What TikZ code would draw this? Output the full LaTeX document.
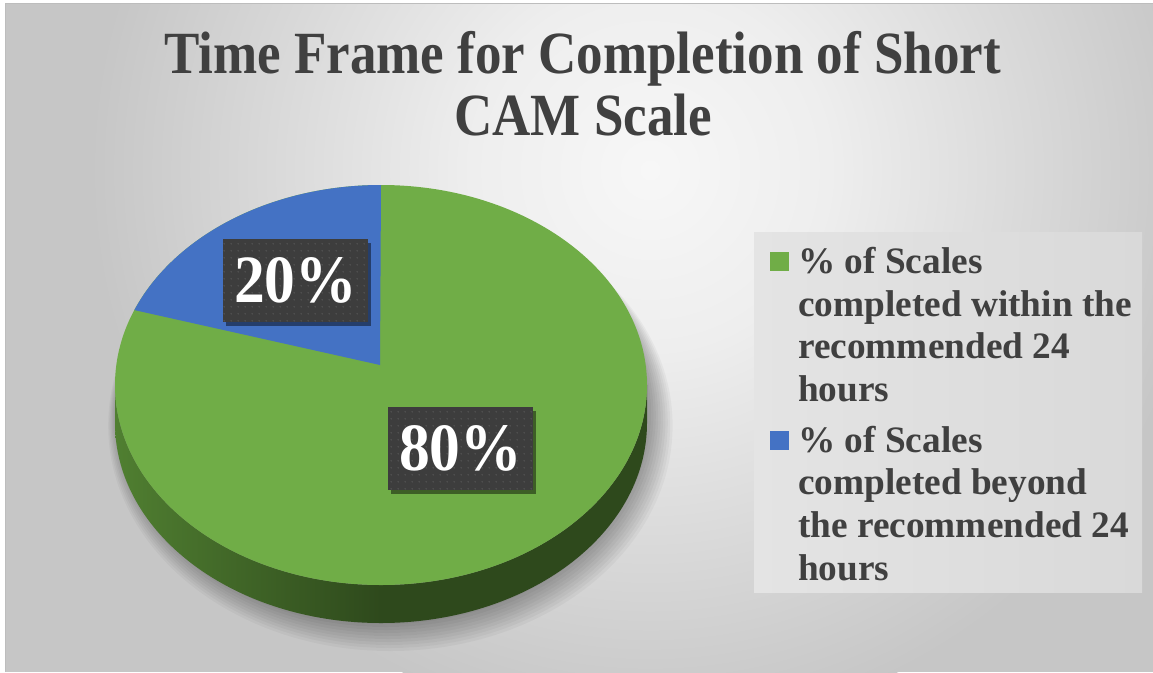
\documentclass[tikz,border=0pt]{standalone}
\usepackage{fontspec}
\setmainfont{Liberation Serif}
\usetikzlibrary{patterns.meta,shadows}
\definecolor{pgreen}{HTML}{70AD47}
\definecolor{pblue}{HTML}{4472C4}
\definecolor{sideL}{HTML}{507F31}
\definecolor{sideR}{HTML}{2E491C}
\definecolor{txtc}{HTML}{404040}
\definecolor{bgin}{HTML}{F7F7F7}
\definecolor{bgmid}{HTML}{EEEEEE}
\definecolor{bgout}{HTML}{C6C6C6}
\definecolor{framec}{HTML}{BDBDBD}
\definecolor{legL}{HTML}{E4E4E4}
\definecolor{legR}{HTML}{D9D9D9}
\definecolor{lblgray}{HTML}{3D3D3D}
\definecolor{dotgray}{HTML}{555555}
\pgfdeclareradialshading{bgshade}{\pgfpoint{0bp}{0bp}}{color(0bp)=(bgin); color(8bp)=(bgmid); color(25bp)=(bgout); color(50bp)=(bgout)}
\tikzdeclarepattern{
  name=lbldots,
  type=uncolored,
  bounding box={(0pt,0pt) and (6.7pt,6.7pt)},
  tile size={(6.7pt,6.7pt)},
  code={\fill (3.35pt,3.35pt) circle (0.8pt);}
}
\begin{document}
\begin{tikzpicture}[x=1pt,y=-1pt,
  titletext/.style={anchor=base, inner sep=0pt, text=txtc, font=\fontsize{53}{60}\selectfont\bfseries},
  legtext/.style={anchor=base west, inner sep=0pt, text=txtc, font=\fontsize{37.3}{42}\selectfont\bfseries},
  datalabel/.style={inner sep=0pt, minimum width=145pt, minimum height=83pt, text=white,
    font=\fontsize{61.5}{62}\selectfont\bfseries,
    drop shadow={shadow xshift=3pt, shadow yshift=-4pt, opacity=0.45, fill=black},
    preaction={fill=lblgray}, pattern=lbldots, pattern color=dotgray},
  legmark/.style={inner sep=0pt, minimum size=19pt}
]
\useasboundingbox (0,0) rectangle (1153,672);
\fill[white] (0,0) rectangle (1153,672);
% background
\begin{scope}
  \clip (5,3) rectangle (1153,672);
  \fill[bgout] (5,3) rectangle (1153,672);
  \shade[shading=bgshade] (650,170) circle (560pt);
\end{scope}
\draw[framec, line width=1pt] (5,672) -- (5,3) -- (1153,3);
% pie shadow
\foreach \i in {0,...,9}{
  \fill[black, opacity=0.035] ({385+0.6*\i},{412+1.5*\i}) ellipse [x radius={266pt+1.8pt*\i}, y radius={212pt+1.5pt*\i}];
}
% pie side
\shade[left color=sideL, right color=sideR, middle color=sideR]
  (115,385) arc[start angle=180, end angle=360, x radius=266pt, y radius=200pt]
  -- ++(0,38) arc[start angle=0, end angle=-180, x radius=266pt, y radius=200pt] -- cycle;
% pie top
\fill[pgreen] (381,385) ellipse [x radius=266pt, y radius=200pt];
\fill[pblue] (380,365) -- (381,185) arc[start angle=90, end angle=158, x radius=266pt, y radius=200pt] -- cycle;
% data labels
\node[datalabel] (l20) at (295.5,280.5) {\scalebox{1}[1.1]{20\%}};
\node[datalabel] (l80) at (460.5,448) {\scalebox{1}[1.1]{80\%}};
% title
\node[titletext] (t1) at (582.5,73) {\scalebox{1}[1.13]{Time Frame for Completion of Short}};
\node[titletext] (t2) at (583,135) {\scalebox{1}[1.13]{CAM Scale}};
% legend
\shade[left color=legL, right color=legR] (754,232) rectangle (1142,592);
\node[legmark, fill=pgreen] (m1) at (779.5,261.5) {};
\node[legmark, fill=pblue] (m2) at (779.5,440.5) {};
\node[legtext] (g1a) at (798,273) {\% of Scales};
\node[legtext] (g1b) at (798,316) {completed within the};
\node[legtext] (g1c) at (798,358) {recommended 24};
\node[legtext] (g1d) at (798,401) {hours};
\node[legtext] (g2a) at (798,452) {\% of Scales};
\node[legtext] (g2b) at (798,494) {completed beyond};
\node[legtext] (g2c) at (798,537) {the recommended 24};
\node[legtext] (g2d) at (798,580) {hours};
\end{tikzpicture}
\end{document}
